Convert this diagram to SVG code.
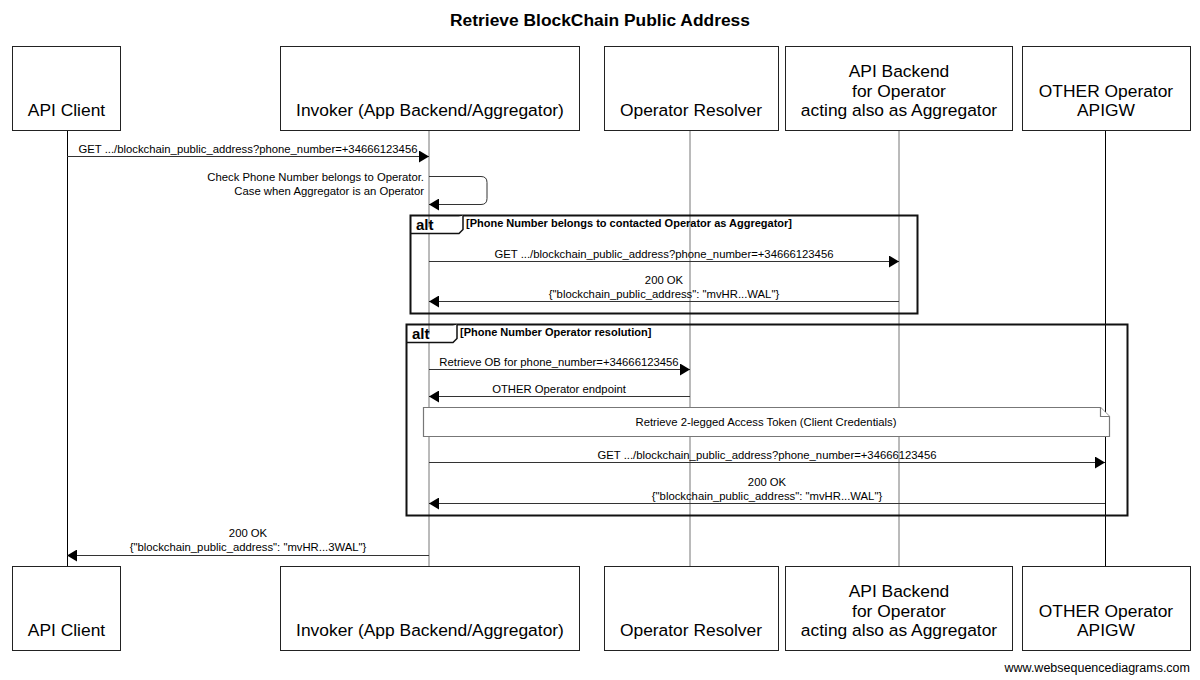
<svg xmlns="http://www.w3.org/2000/svg" width="1200" height="680" viewBox="0 0 1200 680">
<style>
.bg{fill:#fff}
.box{fill:#fff;stroke:#222;stroke-width:1}
.bt{font-family:"Liberation Sans",Arial,sans-serif;font-size:17.4px;fill:#000;text-anchor:middle}
.title{font-family:"Liberation Sans",Arial,sans-serif;font-size:17.4px;font-weight:bold;fill:#000;text-anchor:middle}
.ml{font-family:"Liberation Sans",Arial,sans-serif;font-size:11.3px;fill:#000;text-anchor:middle}
.mr{font-family:"Liberation Sans",Arial,sans-serif;font-size:11.3px;fill:#000;text-anchor:end}
.life{stroke:#777;stroke-width:1;fill:none}
.lifeb{stroke:#000;stroke-width:1;fill:none}
.msg{stroke:#333;stroke-width:1;fill:none;marker-end:url(#ah)}
.frame{fill:none;stroke:#111;stroke-width:2}
.tab{fill:#fff;stroke:#111;stroke-width:1.5}
.alt{font-family:"Liberation Sans",Arial,sans-serif;font-size:15px;font-weight:bold;fill:#000}
.cond{font-family:"Liberation Sans",Arial,sans-serif;font-size:11px;font-weight:bold;fill:#000}
.note{fill:#fff;stroke:#777;stroke-width:1.2}
.wm{font-family:"Liberation Sans",Arial,sans-serif;font-size:12.5px;fill:#000;text-anchor:end}
</style>
<defs>
<marker id="ah" markerUnits="userSpaceOnUse" markerWidth="10" markerHeight="12" refX="10" refY="6" orient="auto">
<path d="M0,0 L10,6 L0,12 z" fill="#000"/>
</marker>
</defs>
<rect class="bg" x="0" y="0" width="1200" height="680"/>
<text class="title" x="600" y="26">Retrieve BlockChain Public Address</text>

<g id="lifelines">
<line class="lifeb" x1="67.5" y1="130" x2="67.5" y2="566"/>
<line class="life" x1="429" y1="130" x2="429" y2="566"/>
<line class="life" x1="690" y1="130" x2="690" y2="566"/>
<line class="life" x1="899" y1="130" x2="899" y2="566"/>
<line class="lifeb" x1="1105.5" y1="130" x2="1105.5" y2="566"/>
</g>

<g id="alt1">
<rect class="frame" x="410.5" y="215.5" width="507" height="98"/>
<path class="tab" d="M410.5,233.5 L459,233.5 L463,229.5 L463,215.5"/>
<text class="alt" x="416" y="230">alt</text>
<text class="cond" x="466" y="227">[Phone Number belongs to contacted Operator as Aggregator]</text>
</g>

<g id="alt2">
<rect class="frame" x="406.5" y="324.5" width="721" height="191"/>
<path class="tab" d="M406.5,342.5 L453,342.5 L457,338.5 L457,324.5"/>
<text class="alt" x="412" y="339">alt</text>
<text class="cond" x="460" y="336">[Phone Number Operator resolution]</text>
</g>

<g id="note">
<path class="note" d="M423.5,407.5 L1100.5,407.5 L1109.5,416.5 L1109.5,436.5 L423.5,436.5 Z"/>
<path class="note" d="M1100.5,407.5 L1100.5,416.5 L1109.5,416.5"/>
<text class="ml" x="766" y="426">Retrieve 2-legged Access Token (Client Credentials)</text>
</g>

<g id="connectors">
<line class="msg" x1="67" y1="156.5" x2="429" y2="156.5"/>
<text class="ml" x="248" y="153">GET .../blockchain_public_address?phone_number=+34666123456</text>

<path class="msg" d="M429,176.5 L481,176.5 Q487,176.5 487,182.5 L487,198.5 Q487,204.5 481,204.5 L429,204.5"/>
<text class="mr" x="424" y="181">Check Phone Number belongs to Operator.</text>
<text class="mr" x="424" y="195">Case when Aggregator is an Operator</text>

<line class="msg" x1="429" y1="261.5" x2="899" y2="261.5"/>
<text class="ml" x="664" y="258">GET .../blockchain_public_address?phone_number=+34666123456</text>

<line class="msg" x1="899" y1="301.5" x2="429" y2="301.5"/>
<text class="ml" x="664" y="284">200 OK</text>
<text class="ml" x="664" y="298">{"blockchain_public_address": "mvHR...WAL"}</text>

<line class="msg" x1="429" y1="369.5" x2="690" y2="369.5"/>
<text class="ml" x="559" y="366">Retrieve OB for phone_number=+34666123456</text>

<line class="msg" x1="690" y1="396.5" x2="429" y2="396.5"/>
<text class="ml" x="559" y="393">OTHER Operator endpoint</text>

<line class="msg" x1="429" y1="462.5" x2="1105" y2="462.5"/>
<text class="ml" x="767" y="459">GET .../blockchain_public_address?phone_number=+34666123456</text>

<line class="msg" x1="1105" y1="503.5" x2="429" y2="503.5"/>
<text class="ml" x="767" y="486">200 OK</text>
<text class="ml" x="767" y="500">{"blockchain_public_address": "mvHR...WAL"}</text>

<line class="msg" x1="429" y1="555.5" x2="67" y2="555.5"/>
<text class="ml" x="248" y="537">200 OK</text>
<text class="ml" x="248" y="551">{"blockchain_public_address": "mvHR...3WAL"}</text>
</g>

<g id="apiclient">
<rect class="box" x="12.5" y="46.5" width="108" height="84"/>
<text class="bt" x="66.5" y="116">API Client</text>
<rect class="box" x="12.5" y="566.5" width="108" height="84"/>
<text class="bt" x="66.5" y="636">API Client</text>
</g>
<g id="invoker">
<rect class="box" x="280.5" y="46.5" width="299" height="84"/>
<text class="bt" x="430" y="116">Invoker (App Backend/Aggregator)</text>
<rect class="box" x="280.5" y="566.5" width="299" height="84"/>
<text class="bt" x="430" y="636">Invoker (App Backend/Aggregator)</text>
</g>
<g id="resolver">
<rect class="box" x="604.5" y="46.5" width="174" height="84"/>
<text class="bt" x="691" y="116">Operator Resolver</text>
<rect class="box" x="604.5" y="566.5" width="174" height="84"/>
<text class="bt" x="691" y="636">Operator Resolver</text>
</g>
<g id="backend">
<rect class="box" x="785.5" y="46.5" width="227" height="84"/>
<text class="bt" x="899" y="77">API Backend</text>
<text class="bt" x="899" y="96.5">for Operator</text>
<text class="bt" x="899" y="116">acting also as Aggregator</text>
<rect class="box" x="785.5" y="566.5" width="227" height="84"/>
<text class="bt" x="899" y="597">API Backend</text>
<text class="bt" x="899" y="616.5">for Operator</text>
<text class="bt" x="899" y="636">acting also as Aggregator</text>
</g>
<g id="othergw">
<rect class="box" x="1022.5" y="46.5" width="168" height="84"/>
<text class="bt" x="1106" y="96.5">OTHER Operator</text>
<text class="bt" x="1106" y="116">APIGW</text>
<rect class="box" x="1022.5" y="566.5" width="168" height="84"/>
<text class="bt" x="1106" y="616.5">OTHER Operator</text>
<text class="bt" x="1106" y="636">APIGW</text>
</g>

<text class="wm" x="1190" y="672">www.websequencediagrams.com</text>
</svg>
